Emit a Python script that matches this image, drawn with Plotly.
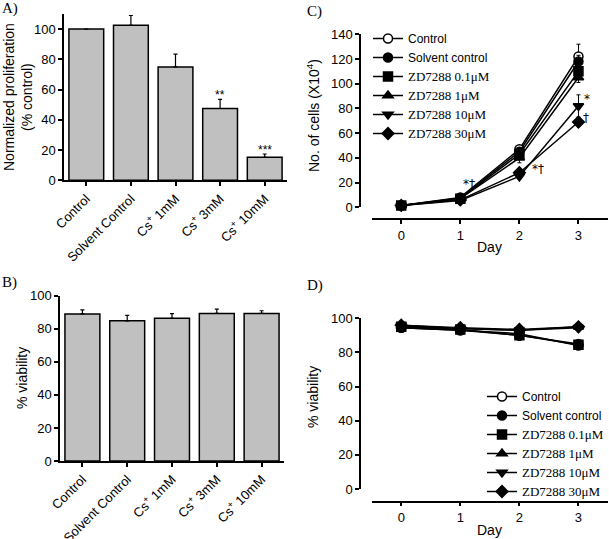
import plotly.graph_objects as go

W, H = 609, 539

# ---- data ----
categories = ["Control", "Solvent Control", "Cs<sup>+</sup> 1mM", "Cs<sup>+</sup> 3mM", "Cs<sup>+</sup> 10mM"]
prolif = [100, 102.5, 75, 47.5, 15.2]
prolif_err = [0, 6.5, 8.5, 6, 2.2]
prolif_sig = ["", "", "", "**", "***"]

viab = [89, 84.8, 86.3, 89.3, 89.3]
viab_err = [2.4, 3.3, 2.8, 2.6, 1.6]

days = [0, 1, 2, 3]
series_names = ["Control", "Solvent control", "ZD7288 0.1μM", "ZD7288 1μM", "ZD7288 10μM", "ZD7288 30μM"]
cells = [
    [1.5, 8, 47, 122],
    [1.5, 7.5, 45, 118],
    [1.5, 7, 43, 110],
    [1.5, 7, 40, 105],
    [1.5, 5.5, 25, 82],
    [1.5, 6, 28, 69],
]
cells_err = [
    [0.5, 1, 2, 10],
    [0.5, 1, 2, 5],
    [0.5, 1, 2, 4],
    [0.5, 1, 4, 4],
    [0.5, 1, 2, 9],
    [0.5, 1, 2, 3],
]
viab_day = [
    [94.5, 93, 91, 84],
    [94.5, 93, 90, 85],
    [95, 93.5, 90, 84.5],
    [95.5, 94, 93, 95],
    [96, 94, 93, 94.5],
    [96, 94.5, 93.5, 95],
]
viab_day_err = [
    [0.5, 0.5, 2, 1],
    [0.5, 0.5, 3, 1],
    [0.5, 0.5, 2, 1],
    [0.5, 0.5, 1, 0.5],
    [0.5, 0.5, 1, 0.5],
    [0.5, 0.5, 1, 0.5],
]
cells_sig = [(1, 19, "*†", 1), (2, 31, "*†", 11), (3, 88, "*", 4), (3, 72, "†", 3)]

symbols = ["circle", "circle", "square", "triangle-up", "triangle-down", "diamond"]
SANS = "Liberation Sans, Arial, sans-serif"
SERIF = "Liberation Serif, Times New Roman, serif"


def px_x(p):
    return p / W


def px_y(p):
    return 1 - p / H


def legend_name(n):
    if n.startswith("ZD"):
        return "<span style=\"font-family:'Liberation Serif', 'Times New Roman', serif;font-size:13px\">%s</span>" % n
    return n


fig = go.Figure()

# A) proliferation bars
fig.add_trace(go.Bar(
    x=categories, y=prolif, xaxis="x", yaxis="y", width=0.78,
    marker=dict(color="#c0c0c0", line=dict(color="black", width=1.5)),
    error_y=dict(type="data", symmetric=False, array=prolif_err, arrayminus=[0] * 5,
                 color="black", thickness=1.2, width=2),
    showlegend=False,
))
# B) viability bars
fig.add_trace(go.Bar(
    x=categories, y=viab, xaxis="x2", yaxis="y2", width=0.78,
    marker=dict(color="#c0c0c0", line=dict(color="black", width=1.5)),
    error_y=dict(type="data", symmetric=False, array=viab_err, arrayminus=[0] * 5,
                 color="black", thickness=1.2, width=2),
    showlegend=False,
))

# C) and D) line charts
for i, name in enumerate(series_names):
    mk = dict(symbol=symbols[i], size=9, color="white" if i == 0 else "black",
              line=dict(color="black", width=1.5))
    fig.add_trace(go.Scatter(
        x=days, y=cells[i], xaxis="x3", yaxis="y3", mode="lines+markers",
        name=legend_name(name), legend="legend",
        line=dict(color="black", width=1.5), marker=mk, cliponaxis=False,
        error_y=dict(type="data", array=cells_err[i], color="black", thickness=1, width=2),
    ))
    fig.add_trace(go.Scatter(
        x=days, y=viab_day[i], xaxis="x4", yaxis="y4", mode="lines+markers",
        name=legend_name(name), legend="legend2",
        line=dict(color="black", width=1.5), marker=mk, cliponaxis=False,
        error_y=dict(type="data", array=viab_day_err[i], color="black", thickness=1, width=2),
    ))

axis_common = dict(showline=True, linecolor="black", linewidth=1.5, ticks="outside",
                   ticklen=4, tickwidth=1.5, tickcolor="black", showgrid=False, zeroline=False,
                   automargin=False,
                   tickfont=dict(family=SANS, size=13, color="black"), fixedrange=True)

fig.update_layout(
    template="none",
    width=W, height=H, margin=dict(l=0, r=0, t=0, b=0, autoexpand=False),
    paper_bgcolor="white", plot_bgcolor="white",
    font=dict(family=SANS, size=13, color="black"),
    xaxis=dict(axis_common, domain=[px_x(64), px_x(287)], anchor="y", tickangle=-45,
               range=[-0.5, 4.5]),
    yaxis=dict(axis_common, domain=[px_y(180.3), px_y(14)], anchor="x", range=[0, 110],
               tickvals=[0, 20, 40, 60, 80, 100]),
    xaxis2=dict(axis_common, domain=[px_x(60), px_x(284)], anchor="y2", tickangle=-45,
                range=[-0.5, 4.5]),
    yaxis2=dict(axis_common, domain=[px_y(461), px_y(295.7)], anchor="x2", range=[0, 100],
                tickvals=[0, 20, 40, 60, 80, 100]),
    xaxis3=dict(axis_common, domain=[px_x(371.7), px_x(608)], anchor="free",
                position=px_y(219.3), range=[-0.5, 3.5], tickvals=days),
    yaxis3=dict(axis_common, domain=[px_y(207.3), px_y(34.3)], anchor="free",
                position=px_x(360), range=[0, 140], tickvals=[0, 20, 40, 60, 80, 100, 120, 140]),
    xaxis4=dict(axis_common, domain=[px_x(371.7), px_x(608)], anchor="free",
                position=px_y(501.5), range=[-0.5, 3.5], tickvals=days),
    yaxis4=dict(axis_common, domain=[px_y(489), px_y(318.3)], anchor="free",
                position=px_x(360), range=[0, 100], tickvals=[0, 20, 40, 60, 80, 100]),
    legend=dict(x=px_x(368), y=px_y(24), xanchor="left", yanchor="top",
                bgcolor="rgba(0,0,0,0)", font=dict(family=SANS, size=12), tracegroupgap=0),
    legend2=dict(x=px_x(482), y=px_y(382), xanchor="left", yanchor="top",
                 bgcolor="rgba(0,0,0,0)", font=dict(family=SANS, size=12), tracegroupgap=0),
)

ann = []
# panel labels
for lab, x, y in [("A)", 0, 8), ("B)", 0, 282), ("C)", 305, 12), ("D)", 305, 285)]:
    ann.append(dict(text=lab, x=px_x(x), y=px_y(y), xref="paper", yref="paper",
                    xanchor="left", yanchor="middle", showarrow=False,
                    font=dict(family=SERIF, size=15, color="black")))
# y-axis titles
for txt, x, y in [("Normalized proliferation<br>(% control)", 18, 97),
                  ("% viability", 22, 378),
                  ("No. of cells (X10<sup>4</sup>)", 313, 116),
                  ("% viability", 313, 397)]:
    ann.append(dict(text=txt, x=px_x(x), y=px_y(y), xref="paper", yref="paper",
                    xanchor="center", yanchor="middle", textangle=-90, showarrow=False,
                    font=dict(family=SANS, size=14, color="black")))
# x-axis titles
for y in [247, 530]:
    ann.append(dict(text="Day", x=px_x(489), y=px_y(y), xref="paper", yref="paper",
                    xanchor="center", yanchor="middle", showarrow=False,
                    font=dict(family=SANS, size=14, color="black")))
# significance marks
for c, v, e, s in zip(categories, prolif, prolif_err, prolif_sig):
    if s:
        ann.append(dict(text=s, x=c, y=v + e, xref="x", yref="y", yanchor="bottom", yshift=-5,
                        showarrow=False, font=dict(family=SANS, size=12, color="black")))
for d, v, s, sh in cells_sig:
    ann.append(dict(text=s, x=d, y=v, xref="x3", yref="y3", xanchor="left", xshift=sh,
                    showarrow=False, font=dict(family="DejaVu Sans, sans-serif", size=12, color="black")))
fig.update_layout(annotations=ann)

# page body has a default 8px margin; remove it so the figure sits at the window corner
fig.write_html("out.html", config={"displayModeBar": False},
               post_script="document.body.style.margin='0px';")
